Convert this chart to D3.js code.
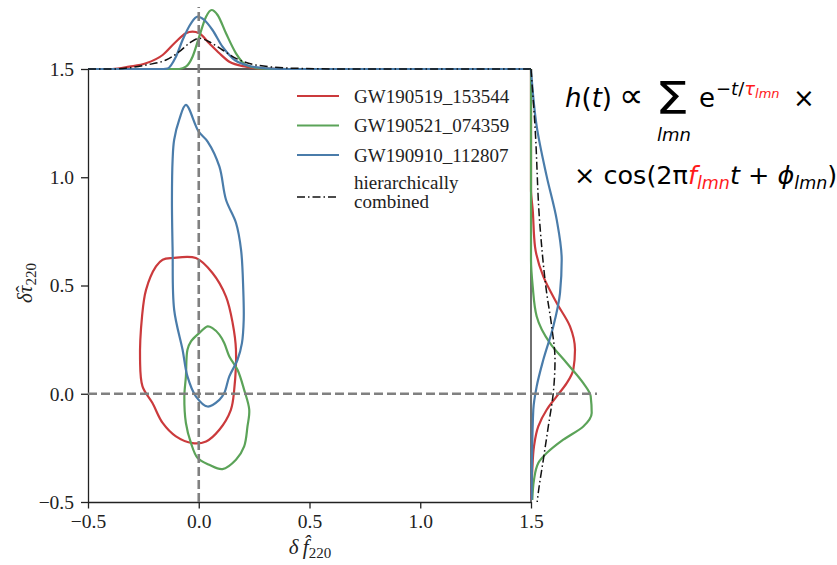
<!DOCTYPE html>
<html>
<head>
<meta charset="utf-8">
<script src="https://cdn.jsdelivr.net/npm/d3@7"></script>
<style>
  html, body { margin: 0; padding: 0; background: #fff; }
  svg { display: block; }
  .tick text { font-family: "Liberation Serif", "DejaVu Serif", serif; font-size: 19.5px; fill: #222; }
  .serif { font-family: "Liberation Serif", "DejaVu Serif", serif; fill: #222; }
  .math { font-family: "DejaVu Sans", sans-serif; fill: #000; }
</style>
</head>
<body>
<svg id="chart" width="837" height="565"></svg>
<script>
// ---- data -------------------------------------------------------------
const events = ["GW190519_153544", "GW190521_074359", "GW190910_112807"];
const combinedLabel = ["hierarchically", "combined"];
const seriesColors = ["#cb3a3c", "#5ba358", "#4a7caa"];
const xTicks = [-0.5, 0.0, 0.5, 1.0, 1.5];
const yTicks = [-0.5, 0.0, 0.5, 1.0, 1.5];

// 90% credible contours in (delta f_220, delta tau_220)
const contourRed = [
  [-0.118, 0.627], [-0.013, 0.627], [0.062, 0.558], [0.123, 0.449], [0.153, 0.327],
  [0.168, 0.203], [0.160, 0.018], [0.145, -0.074], [0.093, -0.166], [0.033, -0.220],
  [-0.028, -0.228], [-0.103, -0.197], [-0.163, -0.135], [-0.209, -0.043], [-0.254, 0.034],
  [-0.265, 0.157], [-0.256, 0.357], [-0.238, 0.480], [-0.193, 0.588], [-0.163, 0.619]
];
const contourGreen = [
  [0.040, 0.311], [0.002, 0.280], [-0.035, 0.242], [-0.051, 0.203], [-0.058, 0.080],
  [-0.065, -0.012], [-0.058, -0.135], [-0.035, -0.228], [-0.005, -0.297], [0.047, -0.328],
  [0.107, -0.348], [0.168, -0.305], [0.205, -0.243], [0.220, -0.151], [0.228, -0.074],
  [0.205, 0.018], [0.175, 0.111], [0.138, 0.172], [0.115, 0.234], [0.093, 0.273], [0.062, 0.303]
];
const contourBlue = [
  [-0.058, 1.334], [-0.001, 1.212], [0.040, 1.165], [0.093, 1.050], [0.123, 0.896],
  [0.168, 0.790], [0.191, 0.665], [0.201, 0.480], [0.203, 0.342], [0.195, 0.234],
  [0.175, 0.157], [0.138, 0.080], [0.115, 0.003], [0.093, -0.028], [0.040, -0.059],
  [-0.013, -0.012], [-0.051, 0.080], [-0.073, 0.203], [-0.111, 0.388], [-0.118, 0.665],
  [-0.121, 0.896], [-0.118, 1.081], [-0.111, 1.173], [-0.088, 1.266]
];

// marginal densities of delta f_220: [value, density]
const margFRed = [
  [-0.5, 0], [-0.391, 0], [-0.314, 0.23], [-0.238, 0.57], [-0.163, 1.40], [-0.103, 2.73],
  [-0.058, 3.57], [-0.028, 3.73], [0.002, 3.57], [0.047, 2.57], [0.093, 1.57],
  [0.138, 0.73], [0.213, 0.23], [0.287, 0.03], [0.4, 0], [1.5, 0]
];
const margFGreen = [
  [-0.5, 0], [-0.088, 0], [-0.058, 0.23], [-0.028, 1.23], [0.002, 3.23], [0.033, 5.23],
  [0.058, 5.90], [0.085, 5.40], [0.123, 3.57], [0.168, 1.57], [0.213, 0.40],
  [0.273, 0.07], [0.35, 0], [1.5, 0]
];
const margFBlue = [
  [-0.5, 0], [-0.16, 0], [-0.141, 0.05], [-0.103, 1.23], [-0.073, 2.90], [-0.035, 4.57],
  [-0.005, 5.23], [0.025, 4.90], [0.062, 3.90], [0.107, 2.23], [0.153, 1.07],
  [0.213, 0.40], [0.303, 0.07], [0.4, 0], [1.5, 0]
];
const margFCombined = [
  [-0.5, 0], [-0.391, 0], [-0.238, 0.40], [-0.148, 0.90], [-0.088, 1.73], [-0.043, 2.57],
  [0.002, 3.07], [0.047, 2.73], [0.107, 1.90], [0.168, 1.07], [0.258, 0.40],
  [0.439, 0.07], [0.665, 0], [1.5, 0]
];

// marginal densities of delta tau_220: [value, density]
const margTRed = [
  [1.5, 0], [0.942, 0], [0.850, 0.17], [0.680, 0.40], [0.542, 1.23], [0.419, 2.57],
  [0.311, 3.90], [0.203, 4.40], [0.111, 4.23], [0.049, 3.57], [-0.012, 2.57],
  [-0.074, 1.57], [-0.151, 0.73], [-0.243, 0.30], [-0.351, 0.13], [-0.49, 0.02]
];
const margTGreen = [
  [1.5, 0], [0.619, 0], [0.496, 0.17], [0.357, 0.57], [0.234, 1.90], [0.142, 3.57],
  [0.049, 5.23], [-0.012, 5.97], [-0.089, 6.07], [-0.151, 5.23], [-0.212, 3.23],
  [-0.274, 1.57], [-0.320, 0.73], [-0.397, 0.30], [-0.490, 0.13]
];
const margTBlue = [
  [1.497, 0], [1.235, 0.57], [1.004, 1.57], [0.804, 2.57], [0.619, 3.07], [0.465, 2.90],
  [0.311, 2.23], [0.157, 1.23], [0.034, 0.57], [-0.074, 0.23], [-0.305, 0.10], [-0.490, 0.07]
];
const margTCombined = [
  [1.5, 0], [1.235, 0.40], [0.773, 0.90], [0.465, 1.57], [0.311, 2.07], [0.157, 2.40],
  [0.005, 2.23], [-0.151, 1.73], [-0.305, 1.23], [-0.457, 0.73], [-0.5, 0.62]
];

// ---- layout -----------------------------------------------------------
const svg = d3.select("#chart");
const x = d3.scaleLinear().domain([-0.5, 1.5]).range([88, 531]);
const y = d3.scaleLinear().domain([-0.5, 1.5]).range([502, 69]);
const dTop = d3.scaleLinear().domain([0, 6]).range([69, 9]);
const dRight = d3.scaleLinear().domain([0, 6]).range([531, 591]);

const combinedDash = "8,3,1.5,3";
const lineW = 2.2;

// ---- contours ---------------------------------------------------------
const contourLine = d3.line().x(d => x(d[0])).y(d => y(d[1])).curve(d3.curveCatmullRomClosed.alpha(0.5));
[contourRed, contourGreen, contourBlue].forEach((c, i) => {
  svg.append("path").attr("d", contourLine(c))
    .attr("fill", "none").attr("stroke", seriesColors[i]).attr("stroke-width", lineW);
});

// ---- marginals --------------------------------------------------------
const topLine = d3.line().x(d => x(d[0])).y(d => dTop(d[1])).curve(d3.curveMonotoneX);
const rightLine = d3.line().x(d => dRight(d[1])).y(d => y(d[0])).curve(d3.curveMonotoneY);

const topSets = [margFRed, margFGreen, margFBlue];
const rightSets = [margTRed, margTGreen, margTBlue];

// spines shared with the marginal panels
const spine = svg.append("g").attr("stroke", "#222").attr("stroke-width", 1.3).attr("fill", "none");
spine.append("line").attr("x1", x(-0.5)).attr("x2", x(1.5)).attr("y1", y(1.5)).attr("y2", y(1.5));
spine.append("line").attr("x1", x(1.5)).attr("x2", x(1.5)).attr("y1", y(1.5)).attr("y2", y(-0.5));

topSets.forEach((s, i) => {
  svg.append("path").attr("d", topLine(s)).attr("fill", "none")
    .attr("stroke", seriesColors[i]).attr("stroke-width", lineW);
});
svg.append("path").attr("d", topLine(margFCombined)).attr("fill", "none")
  .attr("stroke", "#111").attr("stroke-width", 1.5).attr("stroke-dasharray", combinedDash);

rightSets.forEach((s, i) => {
  svg.append("path").attr("d", rightLine(s)).attr("fill", "none")
    .attr("stroke", seriesColors[i]).attr("stroke-width", lineW);
});
svg.append("path").attr("d", rightLine(margTCombined)).attr("fill", "none")
  .attr("stroke", "#111").attr("stroke-width", 1.5).attr("stroke-dasharray", combinedDash);

// ---- axes -------------------------------------------------------------
const fmt = d3.format(".1f");
const xAxis = svg.append("g").attr("transform", `translate(0,${y(-0.5)})`)
  .call(d3.axisBottom(x).tickValues(xTicks).tickFormat(fmt).tickSize(6.5).tickSizeOuter(0).tickPadding(6));
const yAxis = svg.append("g").attr("transform", `translate(${x(-0.5)},0)`)
  .call(d3.axisLeft(y).tickValues(yTicks).tickFormat(fmt).tickSize(7).tickSizeOuter(0).tickPadding(7));
[xAxis, yAxis].forEach(a => {
  a.select(".domain").attr("stroke", "#222").attr("stroke-width", 1.3);
  a.selectAll(".tick line").attr("stroke", "#222").attr("stroke-width", 1.3);
});

// axis labels
const xl = svg.append("text").attr("class", "serif").attr("x", 310).attr("y", 554)
  .attr("text-anchor", "middle").style("font-size", "21px");
xl.append("tspan").attr("font-style", "italic").text("δ\u2009f\u0302");
xl.append("tspan").attr("dy", 4).style("font-size", "15px").text("220");

const yl = svg.append("text").attr("class", "serif")
  .attr("transform", "translate(32,283) rotate(-90)")
  .attr("text-anchor", "middle").style("font-size", "21px");
yl.append("tspan").attr("font-style", "italic").text("δτ");
yl.append("tspan").attr("dx", -7).attr("dy", -1).text("\u02C6");
yl.append("tspan").attr("dx", 0).attr("dy", 5).style("font-size", "15px").text("220");

// ---- reference lines at zero ----------------------------------------------
const ref = svg.append("g").attr("stroke", "#808080").attr("stroke-width", 2.6)
  .attr("stroke-dasharray", "9,4");
ref.append("line").attr("x1", x(0)).attr("x2", x(0)).attr("y1", y(-0.5)).attr("y2", 7);
ref.append("line").attr("x1", x(-0.5)).attr("x2", 597).attr("y1", y(0)).attr("y2", y(0));

// ---- legend -----------------------------------------------------------
const legend = svg.append("g").attr("transform", "translate(297,96)");
events.forEach((name, i) => {
  const g = legend.append("g").attr("transform", `translate(0,${i * 29.5})`);
  g.append("line").attr("x1", 0).attr("x2", 42).attr("stroke", seriesColors[i]).attr("stroke-width", lineW);
  g.append("text").attr("class", "serif").attr("x", 57).attr("y", 6.5).style("font-size", "19px").text(name);
});
const lc = legend.append("g").attr("transform", "translate(0,101)");
lc.append("line").attr("x1", 0).attr("x2", 42).attr("stroke", "#111").attr("stroke-width", 1.5)
  .attr("stroke-dasharray", combinedDash);
lc.append("text").attr("class", "serif").attr("x", 57).attr("y", -8).style("font-size", "19px").text(combinedLabel[0]);
lc.append("text").attr("class", "serif").attr("x", 57).attr("y", 11).style("font-size", "19px").text(combinedLabel[1]);

// ---- ringdown waveform model ------------------------------------------
const red = "#ff1a1a";
const m = svg.append("g").attr("class", "math");
const l1 = m.append("text").attr("x", 565).attr("y", 107).style("font-size", "26px");
l1.append("tspan").attr("font-style", "italic").text("h");
l1.append("tspan").text("(");
l1.append("tspan").attr("font-style", "italic").text("t");
l1.append("tspan").text(")");
m.append("text").attr("x", 619).attr("y", 107).style("font-size", "34px").text("\u221D");
m.append("text").attr("x", 655).attr("y", 114).style("font-size", "45px")
  .attr("transform", "translate(655,0) scale(1.2,1) translate(-655,0)").text("\u03A3");
m.append("text").attr("x", 657).attr("y", 141).attr("font-style", "italic").style("font-size", "18px").text("lmn");
m.append("text").attr("x", 699).attr("y", 107).style("font-size", "26px").text("e");
const sup = m.append("text").attr("x", 716).attr("y", 95).style("font-size", "18px");
sup.append("tspan").text("\u2212");
sup.append("tspan").attr("font-style", "italic").text("t");
sup.append("tspan").text("/");
sup.append("tspan").attr("font-style", "italic").attr("fill", red).text("τ");
sup.append("tspan").attr("font-style", "italic").attr("fill", red).attr("dy", 3).style("font-size", "13px").text("lmn");
m.append("text").attr("x", 793).attr("y", 107).style("font-size", "26px").text("\u00D7");

const l2 = m.append("text").attr("x", 574).attr("y", 184).style("font-size", "25.5px");
l2.append("tspan").text("\u00D7 cos(2π");
l2.append("tspan").attr("font-style", "italic").attr("fill", red).text("f");
l2.append("tspan").attr("font-style", "italic").attr("fill", red).attr("dy", 5).style("font-size", "17.5px").text("lmn");
l2.append("tspan").attr("font-style", "italic").attr("dy", -5).text("t");
l2.append("tspan").text(" + ");
l2.append("tspan").attr("font-style", "italic").text("ϕ");
l2.append("tspan").attr("font-style", "italic").attr("dy", 5).style("font-size", "17.5px").text("lmn");
l2.append("tspan").attr("dy", -5).text(")");
</script>
</body>
</html>
